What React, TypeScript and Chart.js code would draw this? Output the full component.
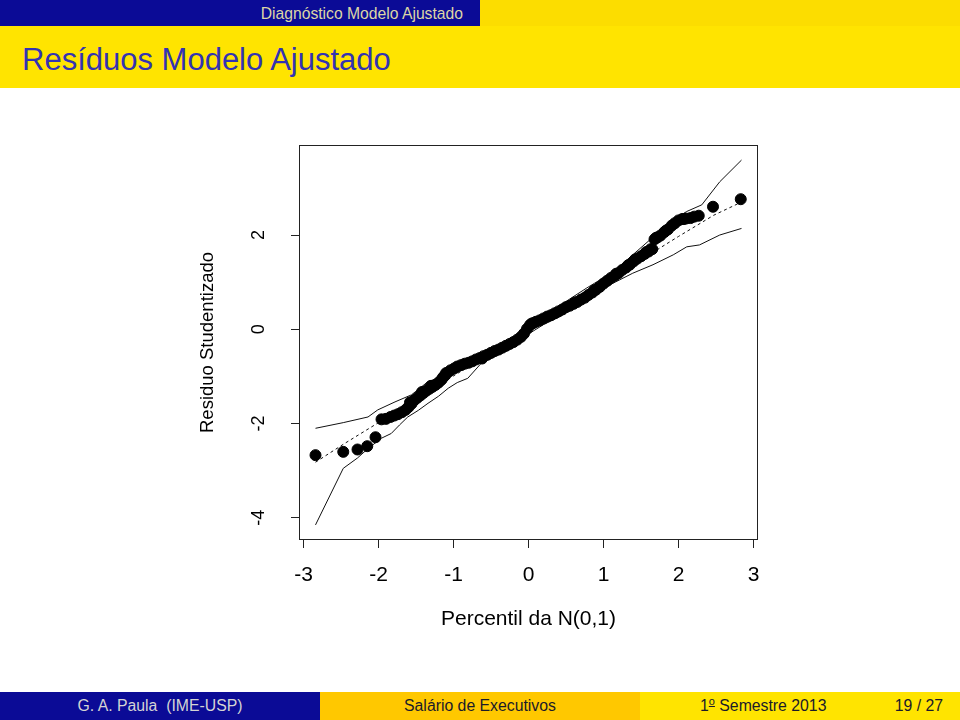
import { useEffect, useRef } from "react";
import { Chart, registerables } from "chart.js";

Chart.register(...registerables);

// Theoretical N(0,1) quantiles (x) and studentized residuals (y)
const qx = [
  -2.84, -2.47, -2.28, -2.15, -2.04, -1.96, -1.9, -1.84, -1.79, -1.74, -1.69, -1.64, -1.6, -1.58, -1.56,
  -1.52, -1.48, -1.44, -1.42, -1.4, -1.36, -1.32, -1.3, -1.28, -1.24, -1.2, -1.16, -1.14, -1.12, -1.1,
  -1.08, -1.04, -0.99, -0.95, -0.9, -0.85, -0.8, -0.75, -0.7, -0.65, -0.62, -0.6, -0.55, -0.5, -0.45,
  -0.4, -0.35, -0.3, -0.25, -0.2, -0.15, -0.1, -0.06, -0.02, 0.02, 0.04, 0.06, 0.1, 0.15, 0.2, 0.25, 0.3,
  0.35, 0.4, 0.45, 0.5, 0.55, 0.6, 0.62, 0.65, 0.7, 0.75, 0.8, 0.85, 0.88, 0.9, 0.95, 1.0, 1.05, 1.1,
  1.15, 1.17, 1.2, 1.25, 1.3, 1.33, 1.35, 1.4, 1.42, 1.45, 1.5, 1.55, 1.57, 1.6, 1.63, 1.65, 1.68, 1.7,
  1.72, 1.76, 1.81, 1.83, 1.86, 1.91, 1.95, 2.0, 2.05, 2.07, 2.1, 2.16, 2.21, 2.27, 2.46, 2.83,
];
const res = [
  -2.67, -2.6, -2.55, -2.48, -2.29, -1.91, -1.9, -1.86, -1.83, -1.8, -1.76, -1.71, -1.65, -1.55, -1.58,
  -1.5, -1.45, -1.4, -1.33, -1.35, -1.3, -1.26, -1.2, -1.22, -1.18, -1.13, -1.07, -1.02, -0.99, -0.93,
  -0.92, -0.87, -0.83, -0.79, -0.76, -0.73, -0.71, -0.68, -0.64, -0.61, -0.62, -0.57, -0.54, -0.5, -0.46,
  -0.43, -0.39, -0.35, -0.31, -0.27, -0.22, -0.16, -0.09, 0.01, 0.09, 0.12, 0.13, 0.16, 0.19, 0.23, 0.27,
  0.3, 0.34, 0.38, 0.42, 0.47, 0.5, 0.54, 0.57, 0.58, 0.63, 0.67, 0.73, 0.78, 0.83, 0.84, 0.9, 0.97, 1.03,
  1.09, 1.14, 1.18, 1.19, 1.26, 1.31, 1.36, 1.37, 1.44, 1.48, 1.5, 1.55, 1.6, 1.64, 1.65, 1.7, 1.7, 1.91,
  1.94, 1.95, 1.99, 2.06, 2.09, 2.12, 2.2, 2.25, 2.31, 2.34, 2.34, 2.35, 2.36, 2.39, 2.41, 2.6, 2.76,
];

// Simulated envelope (lower / upper) and its mean line
const lowX = [
  -2.84, -2.47, -2.28, -2.14, -1.96, -1.83, -1.72, -1.61, -1.47, -1.34, -1.2, -1.07, -0.95, -0.81, -0.63,
  -0.45, -0.27, -0.12, 0.02, 0.2, 0.42, 0.6, 0.77, 0.95, 1.13, 1.39, 1.66, 1.93, 2.11, 2.28, 2.55, 2.84,
];
const lowY = [
  -4.15, -2.95, -2.73, -2.53, -2.31, -2.21, -2.03, -1.86, -1.72, -1.57, -1.42, -1.25, -1.13, -1.04, -0.72,
  -0.58, -0.44, -0.25, -0.08, 0.1, 0.27, 0.45, 0.62, 0.82, 0.98, 1.19, 1.37, 1.58, 1.75, 1.79, 2.0, 2.14,
];
const upX = [
  -2.84, -2.47, -2.14, -2.01, -1.78, -1.56, -1.34, -1.16, -0.89, -0.54, -0.09, 0.11, 0.46, 0.77, 1.13,
  1.39, 1.62, 1.97, 2.11, 2.31, 2.55, 2.84,
];
const upY = [
  -2.1, -1.98, -1.86, -1.71, -1.54, -1.39, -1.11, -1.01, -0.76, -0.51, -0.08, 0.2, 0.55, 0.87, 1.22, 1.58,
  1.9, 2.36, 2.5, 2.64, 3.13, 3.59,
];
const medX = [-2.84, -2.47, -2.0, -1.0, 0.0, 1.0, 2.0, 2.47, 2.84];
const medY = [-2.82, -2.44, -1.98, -0.99, 0.0, 0.98, 1.97, 2.42, 2.7];

const xTicks = [-3, -2, -1, 0, 1, 2, 3];
const yTicks = [-4, -2, 0, 2];

const xTitle = "Percentil da N(0,1)";
const yTitle = "Residuo Studentizado";

const FONT = '"Liberation Sans", Arial, Helvetica, sans-serif';

const toXY = (xs: number[], ys: number[]) => xs.map((x, i) => ({ x, y: ys[i] }));

const rStyle = {
  id: "rStyle",
  afterDraw(chart: any) {
    const { ctx, chartArea } = chart;
    const ys = chart.scales.y;
    ctx.save();
    ctx.strokeStyle = "#222";
    ctx.lineWidth = 1;
    ctx.strokeRect(
      Math.round(chartArea.left) + 0.5,
      Math.round(chartArea.top) + 0.5,
      Math.round(chartArea.right - chartArea.left) - 1,
      Math.round(chartArea.bottom - chartArea.top) - 1
    );
    ctx.fillStyle = "#000";
    ctx.font = `18px ${FONT}`;
    ctx.textAlign = "center";
    ctx.textBaseline = "middle";
    yTicks.forEach((v) => {
      const py = ys.getPixelForValue(v);
      ctx.save();
      ctx.translate(259, py);
      ctx.rotate(-Math.PI / 2);
      ctx.fillText(String(v), 0, 0);
      ctx.restore();
    });
    ctx.restore();
  },
};

export default function App() {
  const ref = useRef<HTMLCanvasElement>(null);

  useEffect(() => {
    const chart = new Chart(ref.current as HTMLCanvasElement, {
      type: "scatter",
      data: {
        datasets: [
          {
            data: toXY(qx, res),
            backgroundColor: "#000",
            borderColor: "#000",
            pointRadius: 5.5,
            borderWidth: 1,
            showLine: false,
          },
          {
            data: toXY(lowX, lowY),
            borderColor: "#111",
            borderWidth: 1,
            pointRadius: 0,
            showLine: true,
          },
          {
            data: toXY(upX, upY),
            borderColor: "#111",
            borderWidth: 1,
            pointRadius: 0,
            showLine: true,
          },
          {
            data: toXY(medX, medY),
            borderColor: "#111",
            borderWidth: 1,
            borderDash: [3, 3],
            pointRadius: 0,
            showLine: true,
          },
        ],
      },
      options: {
        responsive: false,
        animation: false,
        devicePixelRatio: 1,
        layout: { padding: { left: 189, top: 145, right: 202, bottom: 80 } },
        plugins: { legend: { display: false }, tooltip: { enabled: false } },
        scales: {
          x: {
            type: "linear",
            min: -3.06,
            max: 3.06,
            afterBuildTicks: (s: any) => {
              s.ticks = xTicks.map((v) => ({ value: v }));
            },
            afterFit: (s: any) => {
              s.height = 100;
            },
            border: { display: false },
            grid: { drawOnChartArea: false, drawTicks: true, tickLength: 8, color: "#222", lineWidth: 1 },
            ticks: {
              color: "#000",
              font: { family: FONT, size: 21 },
              padding: 15,
              maxRotation: 0,
              minRotation: 0,
              callback: (v: any) => String(v),
            },
            title: {
              display: true,
              text: xTitle,
              color: "#000",
              font: { family: FONT, size: 21 },
              padding: { top: 0, bottom: 8 },
            },
          },
          y: {
            type: "linear",
            min: -4.47,
            max: 3.91,
            afterBuildTicks: (s: any) => {
              s.ticks = yTicks.map((v) => ({ value: v }));
            },
            afterFit: (s: any) => {
              s.width = 110;
            },
            border: { display: false },
            grid: { drawOnChartArea: false, drawTicks: true, tickLength: 8, color: "#222", lineWidth: 1 },
            ticks: { display: false },
            title: {
              display: true,
              text: yTitle,
              color: "#000",
              font: { family: FONT, size: 18.5 },
              padding: { top: 8, bottom: 0 },
            },
          },
        },
      },
      plugins: [rStyle],
    });
    return () => chart.destroy();
  }, []);

  return (
    <div
      style={{
        position: "fixed",
        left: 0,
        top: 0,
        width: 960,
        height: 720,
        overflow: "hidden",
        background: "#fff",
        fontFamily: FONT,
      }}
    >
      <div style={{ position: "absolute", left: 0, top: 0, width: 480, height: 26, background: "#0b0b96" }}>
        <div
          style={{
            position: "absolute",
            right: 17,
            top: 0,
            lineHeight: "27px",
            fontSize: 15.7,
            color: "#dcd6a6",
            whiteSpace: "nowrap",
          }}
        >
          Diagnóstico Modelo Ajustado
        </div>
      </div>
      <div style={{ position: "absolute", left: 480, top: 0, width: 480, height: 26, background: "#fcdd00" }} />
      <div style={{ position: "absolute", left: 0, top: 26, width: 960, height: 62, background: "#ffe400" }} />
      <div
        style={{
          position: "absolute",
          left: 22,
          top: 44,
          lineHeight: 1,
          fontSize: 31,
          fontWeight: "normal",
          color: "#3333b2",
          whiteSpace: "nowrap",
        }}
      >
        Resíduos Modelo Ajustado
      </div>

      <canvas
        ref={ref}
        width={960}
        height={720}
        style={{ position: "absolute", left: 0, top: 0, width: 960, height: 720 }}
      />

      <div
        style={{
          position: "absolute",
          left: 0,
          top: 692,
          width: 320,
          height: 28,
          background: "#0b0b96",
          color: "#d4d4d4",
          fontSize: 15.8,
          lineHeight: "28px",
          textAlign: "center",
          whiteSpace: "pre",
        }}
      >
        G. A. Paula  (IME-USP)
      </div>
      <div
        style={{
          position: "absolute",
          left: 320,
          top: 692,
          width: 320,
          height: 28,
          background: "#ffc800",
          color: "#1a1a2a",
          fontSize: 15.8,
          lineHeight: "28px",
          textAlign: "center",
          whiteSpace: "nowrap",
        }}
      >
        Salário de Executivos
      </div>
      <div
        style={{
          position: "absolute",
          left: 640,
          top: 692,
          width: 320,
          height: 28,
          background: "#ffe400",
          color: "#1a1a2a",
          fontSize: 15.8,
          lineHeight: "28px",
          whiteSpace: "nowrap",
        }}
      >
        <span style={{ position: "absolute", left: 60 }}>
          1<sup style={{ fontSize: 11, textDecoration: "underline", verticalAlign: "6px", lineHeight: 0 }}>o</sup> Semestre 2013
        </span>
        <span style={{ position: "absolute", right: 17 }}>19 / 27</span>
      </div>
    </div>
  );
}
